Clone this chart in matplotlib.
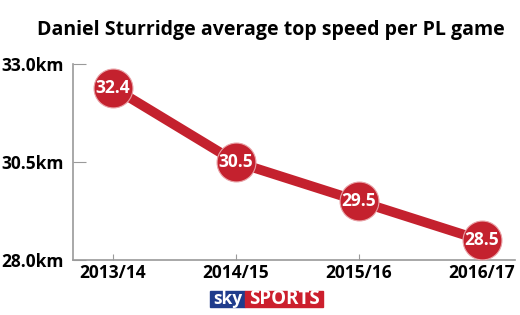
import matplotlib.pyplot as plt
from matplotlib.patches import Rectangle

seasons = ["2013/14", "2014/15", "2015/16", "2016/17"]
top_speed = [32.4, 30.5, 29.5, 28.5]
ytick_vals = [28.0, 30.5, 33.0]
ytick_labels = ["28.0km", "30.5km", "33.0km"]

red = "#c4212e"
grey = "#9a9a9a"
font = "Open Sans"

W, H = 520, 315
fig = plt.figure(figsize=(W / 100, H / 100), dpi=100)
ax = fig.add_axes([73 / W, 1 - 260 / H, (515 - 73) / W, (260 - 64) / H])

x = list(range(len(seasons)))
ax.plot(x, top_speed, color=red, lw=7, solid_capstyle="round", zorder=2)
ax.plot(x, top_speed, "o", ms=28, color=red, mec="#e8a0a5", mew=0.8, zorder=3)
for xi, v in zip(x, top_speed):
    ax.text(xi, v, f"{v}", color="white", fontsize=12.5, fontweight="bold",
            family=font, ha="center", va="center", zorder=4)

ax.set_xlim(-0.325, 3.27)
ax.set_ylim(28.0, 33.0)
ax.set_xticks(x)
ax.set_xticklabels(seasons, fontsize=12.5, fontweight="bold", family=font)
ax.set_yticks(ytick_vals)
ax.set_yticklabels(ytick_labels, fontsize=12.5, fontweight="bold", family=font)
ax.tick_params(axis="x", direction="in", length=4, width=0.8, color=grey, pad=3)
ax.tick_params(axis="y", direction="in", length=9, width=0.8, color=grey, pad=7)
for s in ["top", "right"]:
    ax.spines[s].set_visible(False)
for s in ["left", "bottom"]:
    ax.spines[s].set_color(grey)
    ax.spines[s].set_linewidth(1.2)
for ln in ax.lines:
    ln.set_clip_on(False)

fig.text(0.52, 1 - 30 / H, "Daniel Sturridge average top speed per PL game",
         ha="center", va="center", fontsize=14, fontweight="bold", family=font)

# sky sports logo
fig.patches.append(Rectangle((210 / W, 1 - 307 / H), 35 / W, 16 / H,
                             transform=fig.transFigure, color="#1f3c8c"))
fig.patches.append(Rectangle((245 / W, 1 - 307 / H), 78 / W, 16 / H,
                             transform=fig.transFigure, color="#cc1f2d"))
fig.text(227.5 / W, 1 - 299 / H, "sky", color="white", fontsize=12.5,
         fontweight="bold", family=font, ha="center", va="center")
fig.text(284 / W, 1 - 299 / H, "SPORTS", color="white", fontsize=13.5,
         fontweight="bold", family=font, ha="center", va="center")

fig.savefig("out.png", dpi=100)
